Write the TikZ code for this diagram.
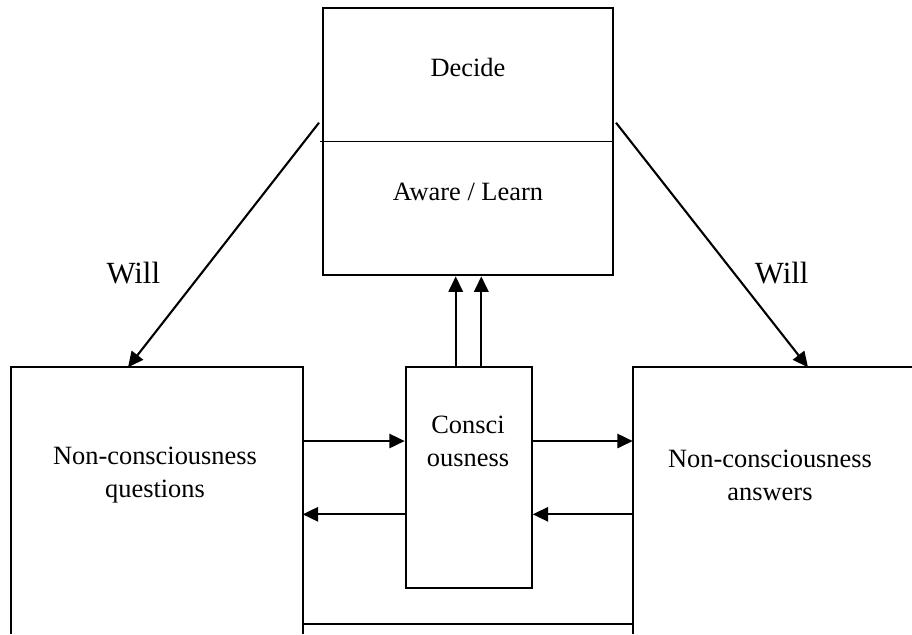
\documentclass[tikz,border=0pt]{standalone}
\usepackage{fontspec}
\setmainfont{Liberation Serif}
\usetikzlibrary{arrows.meta,fit,calc}
\begin{document}
\begin{tikzpicture}[x=0.4545pt,y=-0.4545pt,
  line/.style={line width=0.95pt},
  arr/.style={line width=0.95pt,-{Triangle[length=7pt,width=6.5pt]}},
  lbl/.style={font=\fontsize{12}{15}\selectfont,align=center,inner sep=0pt},
  willlbl/.style={font=\fontsize{14}{16}\selectfont,inner sep=0pt},
  box/.style={draw,line width=0.95pt,inner sep=0pt}]
\useasboundingbox (0,0) rectangle (912,634);
% top box
\coordinate (tl) at (322.7,8.3); \coordinate (tr) at (612.7,275.3);
\node[box,fit=(tl)(tr)] (top) {};
\coordinate (divl) at (320,141.7);
\draw[line width=0.7pt] (divl) -- (top.east |- divl);
\node[lbl] (decide) at (468,67) {Decide};
\node[lbl] (aware) at (468,192) {Aware / Learn};
% consciousness box
\coordinate (cl) at (405.7,367.3); \coordinate (cr) at (531.7,588);
\node[box,fit=(cl)(cr)] (cons) {};
\node[lbl] (constext) at (468,441.5) {Consci\\ousness};
% left open box
\coordinate (lsw) at (11,634); \coordinate (lnw) at (11,367.3);
\coordinate (lne) at (302.7,367.3); \coordinate (lse) at (302.7,634);
\draw[line] (lsw) -- (lnw) -- (lne) -- (lse);
\node[lbl] (qtext) at (155,475) {Non-consciousness\\questions};
% right open box
\coordinate (rsw) at (632.7,634); \coordinate (rnw) at (632.7,367.3);
\coordinate (rne) at (912,367.3);
\draw[line] (rsw) -- (rnw) -- (rne);
\node[lbl] (atext) at (770,475) {Non-consciousness\\answers};
% bottom line
\coordinate (bl) at (302.7,624.3);
\draw[line] (bl) -- (rsw |- bl);
% up arrows
\coordinate (u1) at (455.7,0); \coordinate (u2) at (481.3,0);
\draw[arr] (cons.north -| u1) -- (top.south -| u1);
\draw[arr] (cons.north -| u2) -- (top.south -| u2);
% horizontal arrows
\coordinate (ya) at (0,441); \coordinate (yb) at (0,514.3);
\draw[arr] (lne |- ya) -- (cons.west |- ya);
\draw[arr] (cons.east |- ya) -- (rnw |- ya);
\draw[arr] (cons.west |- yb) -- (lne |- yb);
\draw[arr] (rnw |- yb) -- (cons.east |- yb);
% will arrows
\coordinate (ws1) at (319,122.7); \coordinate (we1) at (128,367.3);
\coordinate (ws2) at (616,122.7); \coordinate (we2) at (808,367.3);
\draw[arr] (ws1) -- (we1);
\draw[arr] (ws2) -- (we2);
\node[willlbl] (will1) at (133.3,273.3) {Will};
\node[willlbl] (will2) at (781.7,273) {Will};
\end{tikzpicture}
\end{document}
